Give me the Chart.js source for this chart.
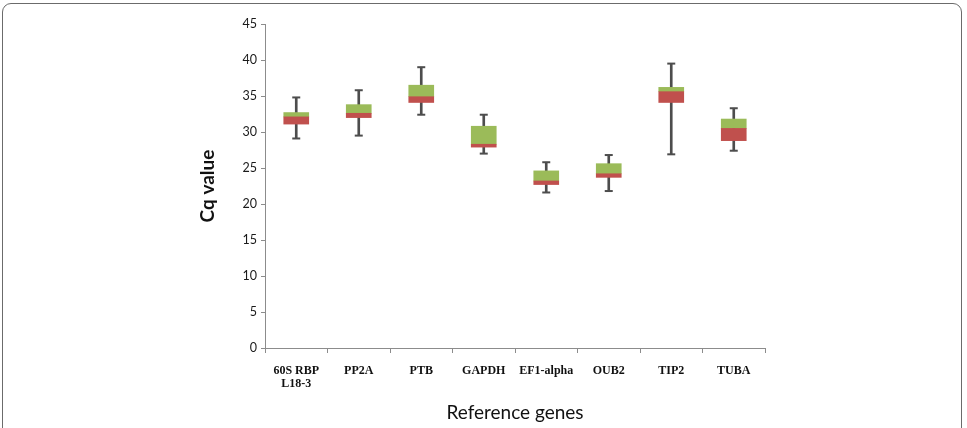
<!DOCTYPE html>
<html>
<head>
<meta charset="utf-8">
<script src="https://cdn.jsdelivr.net/npm/chart.js@4"></script>
<style>
  html, body { margin: 0; padding: 0; background: #fff; overflow: hidden; }
  #wrap { position: relative; width: 967px; height: 428px; }
  #frame {
    position: absolute; left: 2px; top: 3px; width: 960px; height: 460px;
    border: 1px solid #6b6b6b; border-radius: 9px; box-sizing: border-box;
  }
  #chart { position: absolute; left: 0; top: 0; }
</style>
</head>
<body>
<div id="wrap">
  <div id="frame"></div>
  <canvas id="chart" width="967" height="428"></canvas>
</div>
<script>
const genes = [['60S RBP', 'L18-3'], 'PP2A', 'PTB', 'GAPDH', 'EF1-alpha', 'OUB2', 'TIP2', 'TUBA'];
const minVals = [29.1, 29.5, 32.4, 27.0, 21.6, 21.8, 26.9, 27.4];
const q1Vals = [31.1, 32.0, 34.1, 27.9, 22.7, 23.7, 34.1, 28.8];
const medianVals = [32.1, 32.6, 34.9, 28.3, 23.2, 24.2, 35.6, 30.5];
const q3Vals = [32.7, 33.8, 36.5, 30.8, 24.6, 25.6, 36.2, 31.8];
const maxVals = [34.8, 35.8, 39.0, 32.4, 25.8, 26.8, 39.5, 33.3];
const yTicks = [0, 5, 10, 15, 20, 25, 30, 35, 40, 45];

const axisGray = '#8c8c8c';
const whiskerColor = '#4d4d4d';

const pairs = (a, b) => a.map((v, i) => [v, b[i]]);

new Chart(document.getElementById('chart'), {
  type: 'bar',
  data: {
    labels: genes,
    datasets: [
      {
        label: 'lower',
        data: pairs(q1Vals, medianVals),
        backgroundColor: '#c0504d',
        grouped: false,
        barThickness: 25,
        order: 1,
      },
      {
        label: 'upper',
        data: pairs(medianVals, q3Vals),
        backgroundColor: '#9bbb59',
        grouped: false,
        barThickness: 25,
        order: 1,
      },
      {
        label: 'whisker',
        data: pairs(minVals, maxVals),
        backgroundColor: whiskerColor,
        grouped: false,
        barThickness: 2,
        order: 3,
      },
      {
        type: 'line',
        label: 'min cap',
        data: minVals,
        showLine: false,
        pointStyle: 'line',
        pointRadius: 4,
        borderWidth: 2,
        borderColor: whiskerColor,
        order: 2,
      },
      {
        type: 'line',
        label: 'max cap',
        data: maxVals,
        showLine: false,
        pointStyle: 'line',
        pointRadius: 4,
        borderWidth: 2,
        borderColor: whiskerColor,
        order: 2,
      },
    ]
  },
  options: {
    responsive: false,
    animation: false,
    layout: { padding: { left: 196, right: 202, top: 24, bottom: 4 } },
    plugins: { legend: { display: false }, tooltip: { enabled: false } },
    scales: {
      x: {
        offset: true,
        grid: { offset: true, drawOnChartArea: false, tickLength: 5, color: axisGray },
        border: { color: axisGray },
        ticks: {
          padding: 12,
          color: '#111',
          font: { family: '"Liberation Serif", serif', weight: 'bold', size: 12, lineHeight: 1.05 },
          maxRotation: 0,
          autoSkip: false,
        },
        title: {
          display: true,
          text: 'Reference genes',
          color: '#111',
          font: { family: 'Lato, sans-serif', size: 19 },
          padding: { top: 13, bottom: 0 },
        },
        afterFit: (s) => { s.height = 76; },
      },
      y: {
        min: 0,
        max: 45,
        afterBuildTicks: (s) => { s.ticks = yTicks.map(v => ({ value: v })); },
        grid: { drawOnChartArea: false, tickLength: 4, color: axisGray },
        border: { color: axisGray },
        ticks: {
          padding: 4,
          color: '#1a1a1a',
          font: { family: 'Lato, sans-serif', size: 12.5 },
        },
        title: {
          display: true,
          text: 'Cq value',
          color: '#111',
          font: { family: 'Lato, sans-serif', weight: 'bold', size: 19 },
          padding: { top: 0, bottom: 0 },
        },
        afterFit: (s) => { s.width = 69; },
      },
    }
  }
});
</script>
</body>
</html>
